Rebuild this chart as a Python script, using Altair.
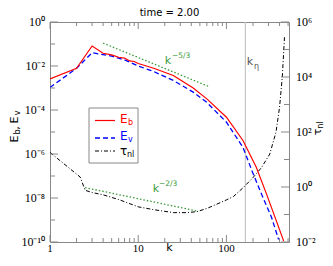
import altair as alt
import pandas as pd

# ---- data ----
k_b = [1, 2, 3, 4, 5, 6, 7, 8, 9, 10, 15, 25, 42, 60, 100, 154, 218, 285, 368, 446]
E_b = [2.6e-3, 7.9e-3, 8.1e-2, 3.8e-2, 3.2e-2, 2.5e-2, 2.3e-2, 1.7e-2, 1.6e-2, 1.3e-2,
       7.9e-3, 3.7e-3, 1.0e-3, 3.2e-4, 4.7e-5, 4.1e-6, 2.5e-7, 1.5e-8, 9.1e-10, 1.1e-10]
k_v = [1, 2, 3, 4, 5, 7, 10, 15, 25, 42, 60, 100, 154, 195, 250, 325, 390]
E_v = [1.05e-3, 7.9e-3, 4.0e-2, 3.3e-2, 2.8e-2, 1.9e-2, 1.0e-2, 5.6e-3, 2.2e-3, 6.5e-4,
       2.2e-4, 2.8e-5, 2.0e-6, 1.7e-7, 1.5e-8, 1.3e-9, 1.3e-10]
k_tau = [1, 2.2, 2.5, 3, 4, 6, 10, 15, 25, 35, 46, 60, 77, 100, 120, 155, 200, 250, 310,
         365, 400, 430, 455]
tau_nl = [18, 2.3, 0.76, 0.63, 0.52, 0.35, 0.19, 0.15, 0.117, 0.117, 0.126, 0.166, 0.234,
          0.34, 0.45, 0.95, 2.2, 5.1, 15.8, 100, 790, 1.0e4, 2.8e5]
k_53 = [4, 62]
E_53 = [0.11, 1.2e-3]
k_23 = [2.5, 46]
tau_23 = [0.95, 0.135]
k_eta = [164]

x_major = [1, 10, 100]
x_major_labels = ["1", "10", "100"]
x_minor = [2, 3, 4, 5, 6, 7, 8, 9, 20, 30, 40, 50, 60, 70, 80, 90, 200, 300, 400, 500]
yl_major = [1, 1e-2, 1e-4, 1e-6, 1e-8, 1e-10]
yl_labels = ["10⁰", "10⁻²", "10⁻⁴", "10⁻⁶", "10⁻⁸", "10⁻¹⁰"]
yl_minor = [1e-1, 1e-3, 1e-5, 1e-7, 1e-9]
yr_major = [1e6, 1e4, 1e2, 1, 1e-2]
yr_labels = ["10⁶", "10⁴", "10²", "10⁰", "10⁻²"]
yr_minor = [1e5, 1e3, 1e1, 1e-1]

W, H = 239, 220
GRAY = "#888888"
SERIF = "Liberation Serif"
SANS = "DejaVu Sans"

xs = alt.Scale(type="log", domain=[1, 512], nice=False)
yl = alt.Scale(type="log", domain=[1e-10, 1], nice=False)
yr = alt.Scale(type="log", domain=[1e-2, 1e6], nice=False)


def X(f="k"):
    return alt.X(f + ":Q", scale=xs, axis=None)


def line(kk, vv, scale, color, width, dash=None):
    mk = dict(color=color, strokeWidth=width, clip=True)
    if dash:
        mk["strokeDash"] = dash
    return alt.Chart(pd.DataFrame({"k": kk, "v": vv})).mark_line(**mk).encode(
        x=X(), y=alt.Y("v:Q", scale=scale, axis=None))


def label(text, x, y, size, color="black", font=SANS, angle=0, align="left", baseline="middle"):
    return alt.Chart(pd.DataFrame({"t": [text]})).mark_text(
        align=align, baseline=baseline, fontSize=size, font=font, color=color, angle=angle
    ).encode(x=alt.value(x), y=alt.value(y), text="t:N")


def xticks(vals, length):
    d = pd.DataFrame({"k": vals})
    bot = alt.Chart(d).mark_rule(color=GRAY, strokeWidth=1).encode(
        x=X(), y=alt.value(H), y2=alt.value(H - length))
    top = alt.Chart(d).mark_rule(color=GRAY, strokeWidth=1).encode(
        x=X(), y=alt.value(0), y2=alt.value(length))
    return [bot, top]


def yticks(vals, scale, side, length):
    d = pd.DataFrame({"v": vals})
    if side == "left":
        x1, x2 = 0, length
    else:
        x1, x2 = W, W - length
    return alt.Chart(d).mark_rule(color=GRAY, strokeWidth=1).encode(
        y=alt.Y("v:Q", scale=scale, axis=None), x=alt.value(x1), x2=alt.value(x2))


layers = []
# k_eta vertical line
layers.append(alt.Chart(pd.DataFrame({"k": k_eta})).mark_rule(color="#c4c4c4", strokeWidth=1.2).encode(
    x=X(), y=alt.value(0), y2=alt.value(H)))
# green reference slopes
layers.append(line(k_53, E_53, yl, "#3a9a3a", 1.3, [1.5, 2]))
layers.append(line(k_23, tau_23, yr, "#3a9a3a", 1.3, [1.5, 2]))
# series
layers.append(line(k_tau, tau_nl, yr, "black", 1, [4, 2, 1, 2]))
layers.append(line(k_v, E_v, yl, "#0000ff", 1.3, [5, 3]))
layers.append(line(k_b, E_b, yl, "#ff0000", 1.2))

# ticks
layers += xticks(x_major, 7)
layers += xticks(x_minor, 4)
layers.append(yticks(yl_major, yl, "left", 8))
layers.append(yticks(yl_minor, yl, "left", 5))
layers.append(yticks(yr_major, yr, "right", 8))
layers.append(yticks(yr_minor, yr, "right", 5))

# tick labels
layers.append(alt.Chart(pd.DataFrame({"k": x_major, "t": x_major_labels})).mark_text(
    font=SERIF, fontSize=11, baseline="top", color="black").encode(
    x=X(), y=alt.value(H + 1), text="t:N"))
layers.append(alt.Chart(pd.DataFrame({"v": yl_major, "t": yl_labels})).mark_text(
    font=SERIF, fontSize=12, align="right", baseline="middle", color="black").encode(
    y=alt.Y("v:Q", scale=yl, axis=None), x=alt.value(-5), text="t:N"))
layers.append(alt.Chart(pd.DataFrame({"v": yr_major, "t": yr_labels})).mark_text(
    font=SERIF, fontSize=12, align="left", baseline="middle", color="black").encode(
    y=alt.Y("v:Q", scale=yr, axis=None), x=alt.value(W + 7), text="t:N"))

# titles
layers.append(label("time =  2.00", W / 2, -6, 10, align="center", baseline="alphabetic"))
layers.append(label("k", W / 2, 229, 11, align="center", baseline="alphabetic"))
# left y title  E_b, E_v  (rotated)
layers.append(label("E", -35, 117, 11, angle=270, align="center"))
layers.append(label("b", -32, 110, 8, angle=270, align="center"))
layers.append(label(",", -34, 106, 11, angle=270, align="center"))
layers.append(label("E", -35, 98, 11, angle=270, align="center"))
layers.append(label("v", -32, 91, 8, angle=270, align="center"))
# right y title tau_nl
layers.append(label("τ", W + 29, 110, 11, angle=270, align="center"))
layers.append(label("nl", W + 32, 103, 8, angle=270, align="center"))

# slope labels
layers.append(label("k", 118, 39, 11, color="#3a9a3a", align="center"))
layers.append(label("−5/3", 122, 34, 7.5, color="#3a9a3a"))
layers.append(label("k", 106, 167, 11, color="#3a9a3a", align="center"))
layers.append(label("−2/3", 109, 162, 7.5, color="#3a9a3a"))
layers.append(label("k", 200, 40, 11, color="#555555", align="center"))
layers.append(label("η", 204, 45, 8, color="#555555"))

# legend
layers.append(alt.Chart(pd.DataFrame({"t": [0]})).mark_rect(
    fill="white", stroke=GRAY, strokeWidth=1).encode(
    x=alt.value(39), x2=alt.value(88), y=alt.value(86), y2=alt.value(141)))


def leg_line(y, color, width, dash=None):
    mk = dict(color=color, strokeWidth=width)
    if dash:
        mk["strokeDash"] = dash
    return alt.Chart(pd.DataFrame({"t": [0]})).mark_rule(**mk).encode(
        x=alt.value(45), x2=alt.value(65), y=alt.value(y))


layers.append(leg_line(98.5, "#ff0000", 1.2))
layers.append(leg_line(116, "#0000ff", 1.3, [5, 3]))
layers.append(leg_line(129, "black", 1, [4, 2, 1, 2]))
layers.append(label("E", 70, 97, 12, color="#ff0000"))
layers.append(label("b", 78, 101, 8, color="#ff0000"))
layers.append(label("E", 70, 114, 12, color="#0000ff"))
layers.append(label("v", 78, 118, 8, color="#0000ff"))
layers.append(label("τ", 70, 129, 12, color="black"))
layers.append(label("nl", 77, 133, 8, color="black"))

chart = alt.layer(*layers).resolve_scale(y="independent").properties(
    width=W, height=H,
    autosize="none",
    padding={"left": 42, "top": 14, "right": 36, "bottom": 12},
).configure_view(stroke=GRAY, strokeWidth=1)

chart.save("out.html", embed_options={"renderer": "svg", "actions": False})
